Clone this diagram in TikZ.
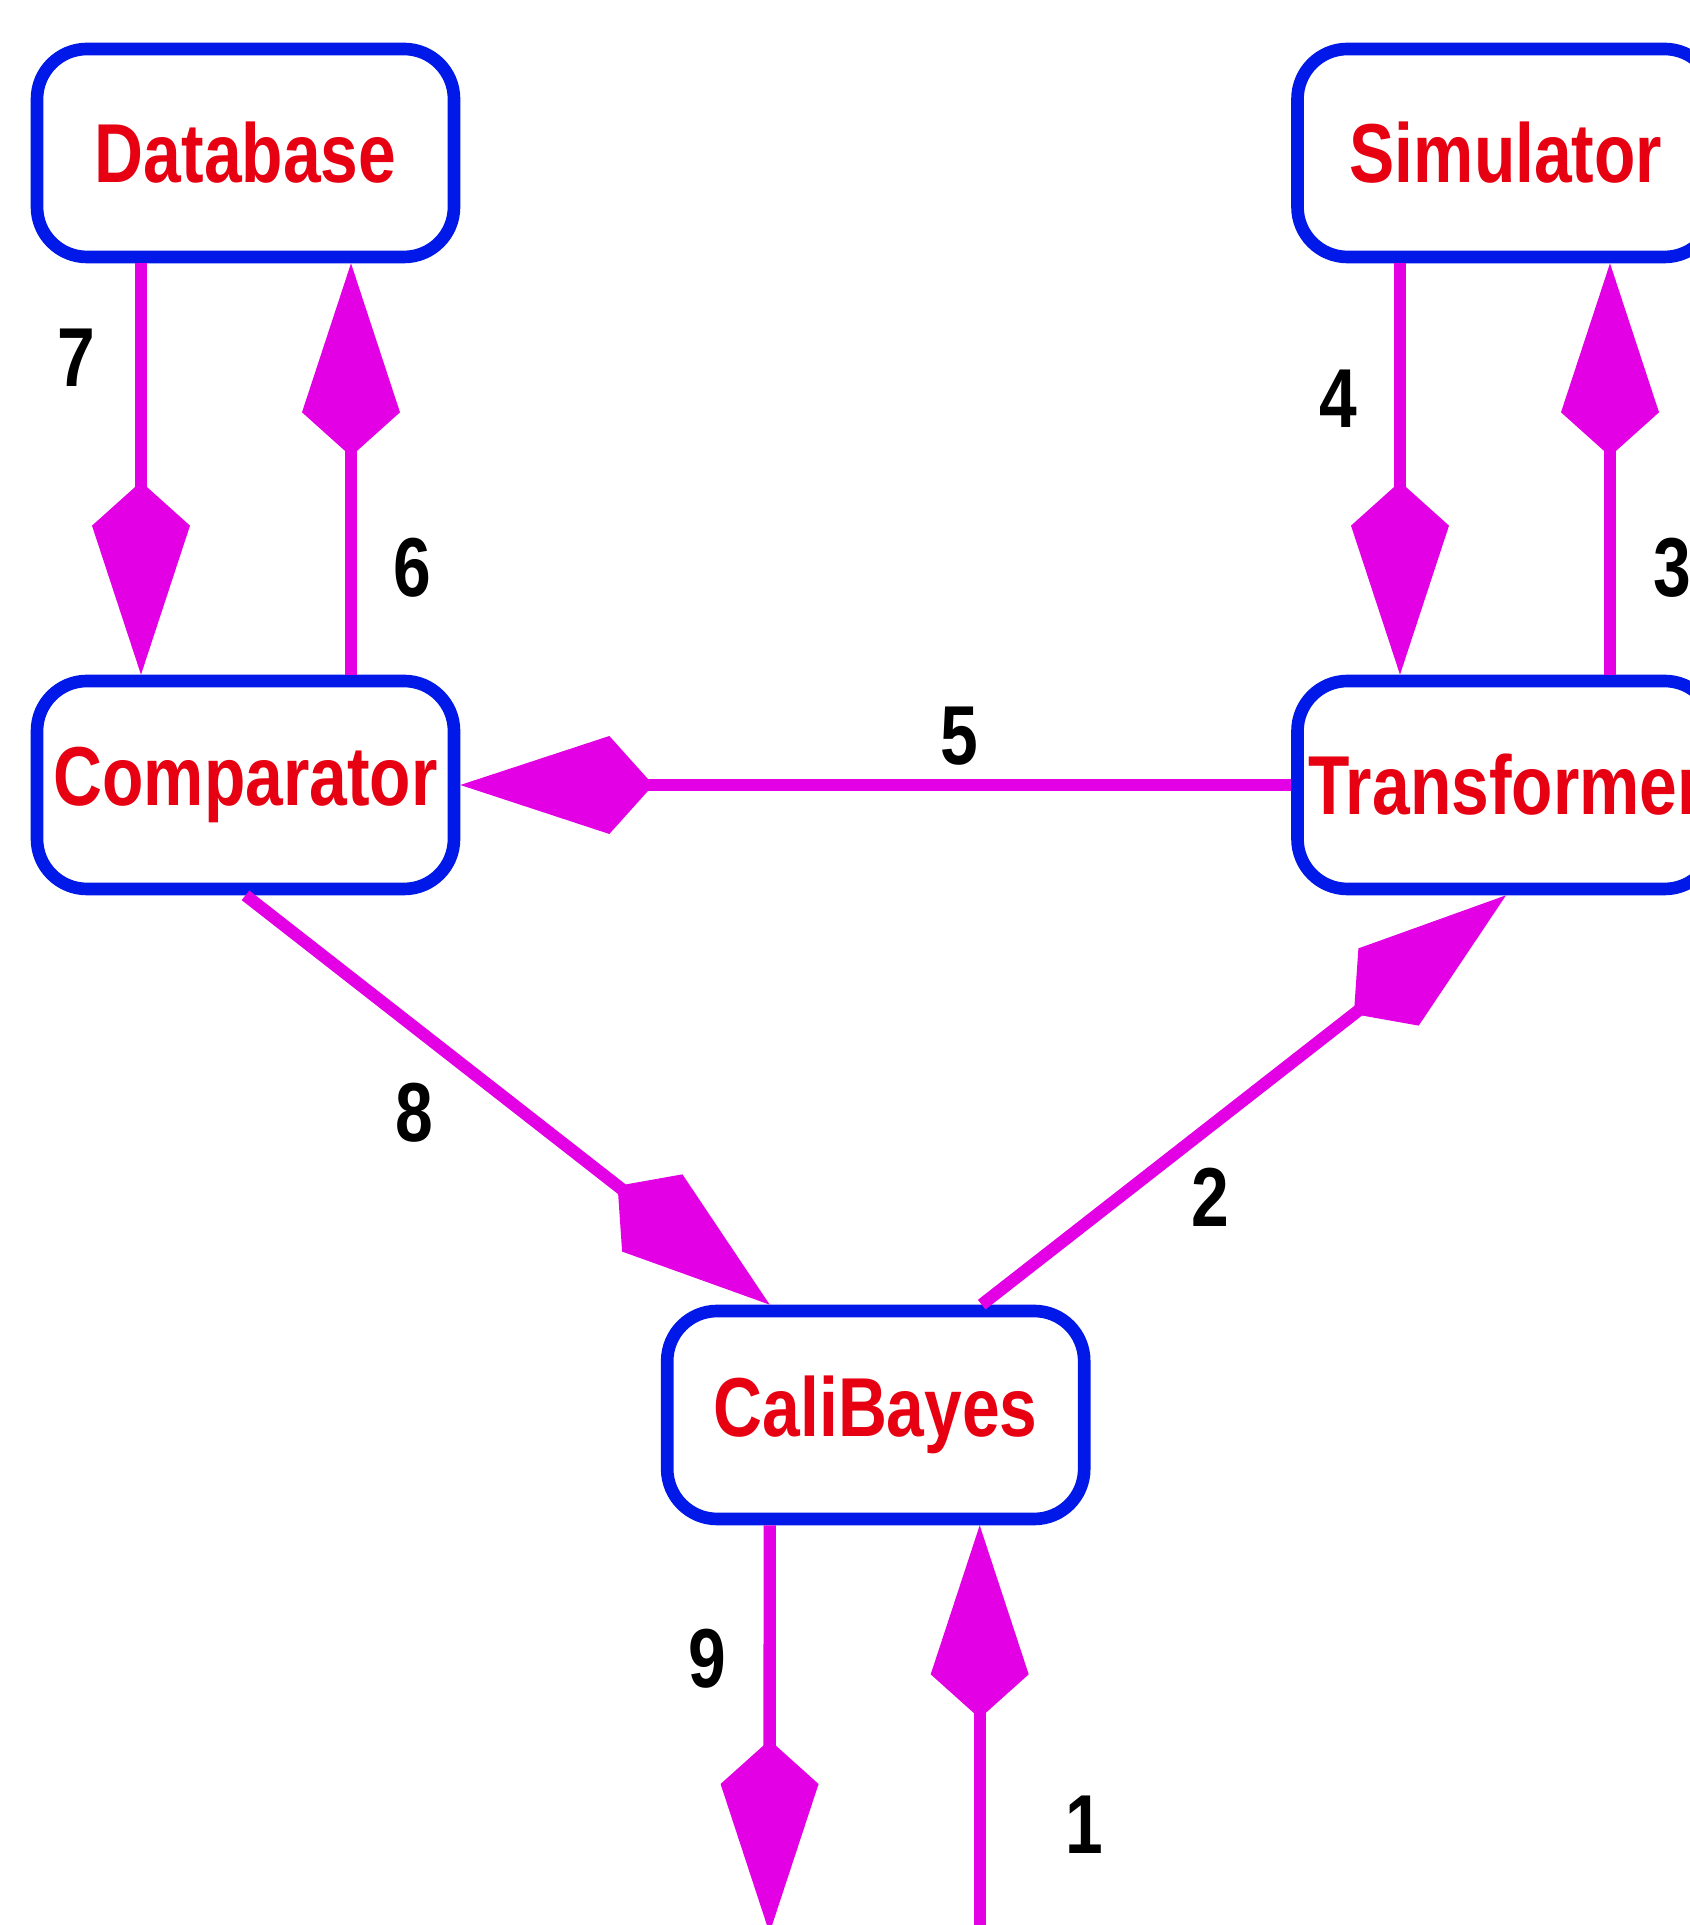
\documentclass[tikz,border=0pt]{standalone}
\usepackage{fontspec}
\setmainfont{Liberation Sans}[FakeStretch=0.81]
\usetikzlibrary{arrows.meta}

\definecolor{boxblue}{RGB}{0,24,232}
\definecolor{namered}{RGB}{230,0,18}
\definecolor{flowmag}{RGB}{228,0,228}

\tikzset{
  block/.style={draw=boxblue,line width=3.6pt,rounded corners=0.5cm,
    minimum width=4.17cm,minimum height=2.08cm,inner sep=0pt,
    text=namered,font=\fontsize{23.8}{28}\selectfont\bfseries},
  flow/.style={draw=flowmag,line width=3.5pt,
    -{Kite[length=1.93cm,width=0.98cm,inset=0.44cm]}},
  num/.style={font=\fontsize{23.8}{28}\selectfont\bfseries}
}

\begin{document}
\begin{tikzpicture}

\clip (0,0) rectangle (16.9,19.25);

% components
\node[block] (db) at (2.455,17.72) {Database};
\node[block] (sim) at (15.06,17.72) {Simulator};
\node[block] (comp) at (2.455,11.40) {Comparator};
\node[block] (trans) at (15.06,11.40) {Transformer};
\node[block] (cali) at (8.757,5.10) {CaliBayes};

% loose ends below CaliBayes
\coordinate (out9) at (7.695,-0.08);
\coordinate (in1) at (9.79,-0.50);

% message flow
\draw[flow] ([xshift=1.04cm]cali.south |- in1) -- ([xshift=1.04cm]cali.south);
\draw[flow] ([xshift=1.06cm]cali.north) -- (trans.south);
\draw[flow] ([xshift=1.04cm]trans.north) -- ([xshift=1.04cm]sim.south);
\draw[flow] ([xshift=-1.06cm]sim.south) -- ([xshift=-1.06cm]trans.north);
\draw[flow] (trans.west) -- (comp.east);
\draw[flow] ([xshift=1.055cm]comp.north) -- ([xshift=1.055cm]db.south);
\draw[flow] ([xshift=-1.045cm]db.south) -- ([xshift=-1.045cm]comp.north);
\draw[flow] (comp.south) -- ([xshift=-1.06cm]cali.north);
\draw[flow] ([xshift=-1.06cm]cali.south) -- (out9);

% step numbers
\node[num] (n1) at (10.84,1.00) {1};
\node[num] (n2) at (12.10,7.28) {2};
\node[num] (n3) at (16.72,13.57) {3};
\node[num] (n4) at (13.38,15.26) {4};
\node[num] (n5) at (9.59,11.89) {5};
\node[num] (n6) at (4.12,13.57) {6};
\node[num] (n7) at (0.76,15.67) {7};
\node[num] (n8) at (4.14,8.12) {8};
\node[num] (n9) at (7.07,2.66) {9};

\end{tikzpicture}
\end{document}
